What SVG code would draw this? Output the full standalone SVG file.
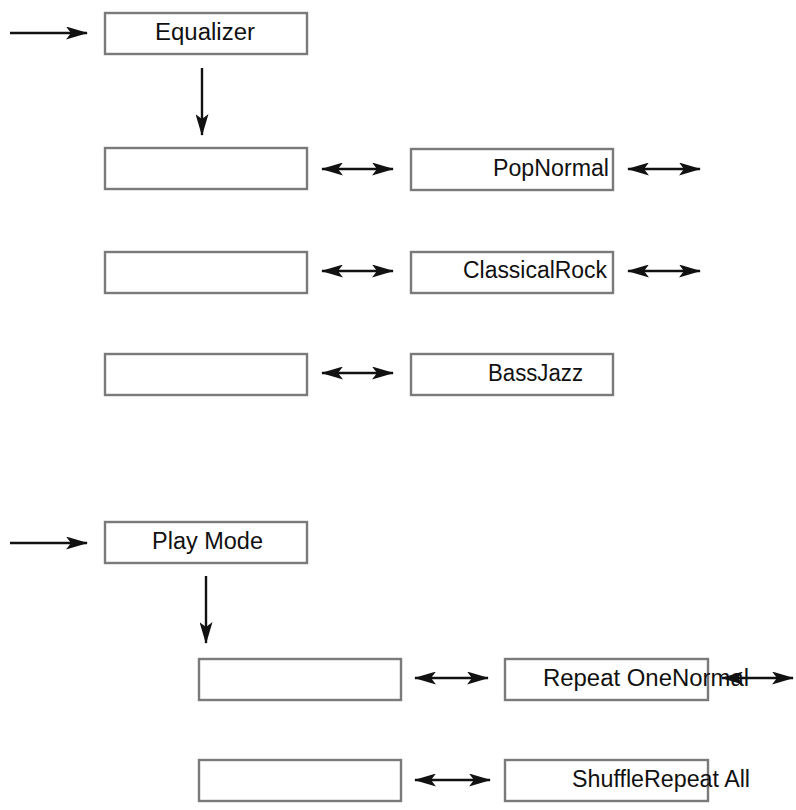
<svg xmlns="http://www.w3.org/2000/svg" width="796" height="810" viewBox="0 0 796 810">
<style>
.box{fill:#fff;stroke:#7a7a7a;stroke-width:2.4}
.lbl{font-family:"Liberation Sans",Arial,sans-serif;font-size:23px;fill:#111}
.conn line{stroke:#111;stroke-width:2.4}
</style>
<defs>
<marker id="ah" markerUnits="userSpaceOnUse" markerWidth="22" markerHeight="13" viewBox="0 0 22 13" refX="21" refY="6.5" orient="auto-start-reverse">
<path d="M0,0 L22,6.5 L0,13 L5,6.5 z" fill="#111"/>
</marker>
</defs>
<rect width="796" height="810" fill="#fff"/>
<g id="equalizer"><rect class="box" x="105" y="13" width="202" height="41"/><text class="lbl" x="155" y="40" textLength="100" lengthAdjust="spacingAndGlyphs">Equalizer</text></g>
<g id="eq-left-1"><rect class="box" x="105" y="148" width="202" height="41"/></g>
<g id="popnormal"><rect class="box" x="411" y="149" width="202" height="41"/><text class="lbl" x="493" y="176" textLength="116" lengthAdjust="spacingAndGlyphs">PopNormal</text></g>
<g id="eq-left-2"><rect class="box" x="105" y="252" width="202" height="41"/></g>
<g id="classicalrock"><rect class="box" x="411" y="252" width="202" height="41"/><text class="lbl" x="463" y="278" textLength="144" lengthAdjust="spacingAndGlyphs">ClassicalRock</text></g>
<g id="eq-left-3"><rect class="box" x="105" y="354" width="202" height="41"/></g>
<g id="bassjazz"><rect class="box" x="411" y="354" width="202" height="41"/><text class="lbl" x="488" y="381" textLength="95" lengthAdjust="spacingAndGlyphs">BassJazz</text></g>
<g id="playmode"><rect class="box" x="105" y="522" width="202" height="41"/><text class="lbl" x="152" y="549" textLength="111" lengthAdjust="spacingAndGlyphs">Play Mode</text></g>
<g id="pm-left-1"><rect class="box" x="199" y="659" width="202" height="41"/></g>
<g id="repeatone"><rect class="box" x="505" y="659" width="203" height="41"/><text class="lbl" x="543" y="686" textLength="206" lengthAdjust="spacingAndGlyphs">Repeat OneNormal</text></g>
<g id="pm-left-2"><rect class="box" x="199" y="760" width="202" height="41"/></g>
<g id="shuffle"><rect class="box" x="505" y="760" width="203" height="41"/><text class="lbl" x="572" y="787" textLength="178" lengthAdjust="spacingAndGlyphs">ShuffleRepeat All</text></g>
<g id="connectors" class="conn">
<line x1="10" y1="33" x2="87" y2="33" marker-end="url(#ah)"/>
<line x1="202" y1="68" x2="202" y2="135" marker-end="url(#ah)"/>
<line x1="322" y1="169" x2="393" y2="169" marker-start="url(#ah)" marker-end="url(#ah)"/>
<line x1="628" y1="169" x2="700" y2="169" marker-start="url(#ah)" marker-end="url(#ah)"/>
<line x1="322" y1="271" x2="393" y2="271" marker-start="url(#ah)" marker-end="url(#ah)"/>
<line x1="628" y1="271" x2="700" y2="271" marker-start="url(#ah)" marker-end="url(#ah)"/>
<line x1="322" y1="373" x2="393" y2="373" marker-start="url(#ah)" marker-end="url(#ah)"/>
<line x1="10" y1="543" x2="87" y2="543" marker-end="url(#ah)"/>
<line x1="206" y1="576" x2="206" y2="643" marker-end="url(#ah)"/>
<line x1="415" y1="678" x2="488" y2="678" marker-start="url(#ah)" marker-end="url(#ah)"/>
<line x1="722" y1="678" x2="793" y2="678" marker-start="url(#ah)" marker-end="url(#ah)"/>
<line x1="415" y1="780" x2="490" y2="780" marker-start="url(#ah)" marker-end="url(#ah)"/>
</g>
</svg>
